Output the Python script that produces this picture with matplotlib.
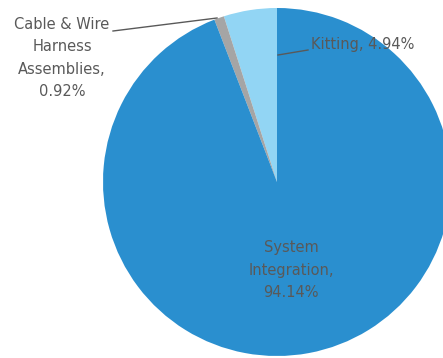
import matplotlib.pyplot as plt

# data
labels = ["Kitting", "Cable & Wire\nHarness\nAssemblies,", "System\nIntegration,"]
values = [4.94, 0.92, 94.14]
colors = ["#92d5f4", "#a5a5a5", "#2a8fcf"]

W, H = 443, 358
cx, cy, r = 277, 182, 174

fig = plt.figure(figsize=(W / 100, H / 100), dpi=100)
ax = fig.add_axes([(cx - r) / W, (H - cy - r) / H, 2 * r / W, 2 * r / H])
ax.pie(values, colors=colors, startangle=90, counterclock=True,
       wedgeprops=dict(linewidth=0), radius=1)
ax.set_xlim(-1, 1)
ax.set_ylim(-1, 1)
ax.set_aspect("equal")
ax.axis("off")


def px(x, y):
    return (x - cx) / r, (cy - y) / r


tc = "#595959"
fs = 10.5

# Kitting
ax.plot(*zip(px(278, 55), px(308, 50)), color=tc, lw=1, clip_on=False)
ax.text(*px(311, 44), f"{labels[0]}, {values[0]:.2f}%", color=tc, fontsize=fs,
        ha="left", va="center")

# Cable & Wire
ax.plot(*zip(px(113, 31), px(217, 18)), color=tc, lw=1, clip_on=False)
ax.text(*px(62, 58), f"{labels[1]}\n{values[1]:.2f}%", color=tc, fontsize=fs,
        ha="center", va="center", linespacing=1.6)

# System Integration
ax.text(*px(291, 270), f"{labels[2]}\n{values[2]:.2f}%", color=tc, fontsize=fs,
        ha="center", va="center", linespacing=1.6)

fig.savefig("out.png", dpi=100)
